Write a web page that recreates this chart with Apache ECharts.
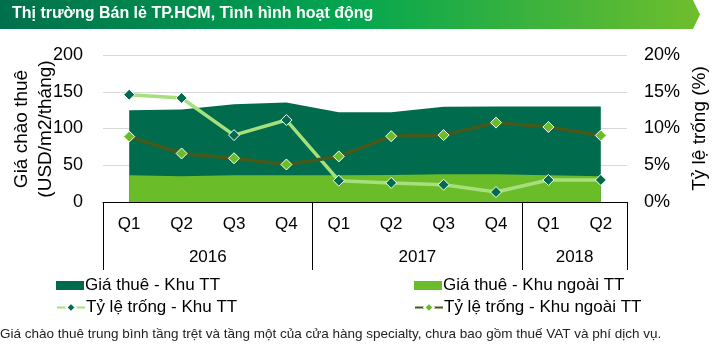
<!DOCTYPE html>
<html>
<head>
<meta charset="utf-8">
<script src="https://cdn.jsdelivr.net/npm/echarts@6/dist/echarts.min.js"></script>
<style>
html,body{margin:0;padding:0;background:#fff;}
#c{width:721px;height:362px;}
</style>
</head>
<body>
<div id="c"></div>
<script>
var quarters = ['Q1','Q2','Q3','Q4','Q1','Q2','Q3','Q4','Q1','Q2'];
var years = ['2016','2017','2018'];
var yearSpans = [4, 4, 2];
var rentCBD = [125, 126, 133, 135.5, 122, 122, 129.5, 130, 130, 130];
var rentNonCBD = [36.5, 35, 36.5, 36.5, 36.5, 36.8, 37.6, 37.6, 36.5, 35.2];
var vacCBD = [14.6, 14.15, 9.1, 11.15, 2.9, 2.6, 2.35, 1.35, 3.0, 3.0];
var vacNonCBD = [8.9, 6.6, 5.95, 5.1, 6.2, 8.95, 9.1, 10.8, 10.2, 9.05];
var leftTicks = [0, 50, 100, 150, 200];
var rightTicks = [0, 5, 10, 15, 20];

var names = ['Giá thuê - Khu TT', 'Giá thuê - Khu ngoài TT', 'Tỷ lệ trống - Khu TT', 'Tỷ lệ trống - Khu ngoài TT'];
var cDark = '#006B4D', cLight = '#6ABD28', cLineLight = '#A6E07C', cLineDark = '#46591A';
var font = 'Liberation Sans, Arial, sans-serif';

var bounds = [0], centers = [], acc = 0;
yearSpans.forEach(function (s) { centers.push(acc + s / 2); acc += s; bounds.push(acc); });

var chart = echarts.init(document.getElementById('c'));
function legendAt(name, left, top, icon) {
  var o = {
    data: [name], left: left, top: top, itemGap: 0, padding: 0,
    itemWidth: 28, itemHeight: icon ? 9 : 12,
    textStyle: { fontSize: 17, color: '#000', fontFamily: font, padding: [0, 0, 0, -4] },
    selectedMode: false
  };
  if (icon) o.icon = icon;
  return o;
}
chart.setOption({
  animation: false,
  textStyle: { fontFamily: font },
  grid: { left: 103, right: 94, top: 55, bottom: 160, containLabel: false, outerBoundsMode: 'none' },
  graphic: [
    {
      type: 'polygon', silent: true,
      shape: { points: [[0, 0], [693, 0], [700, 14.5], [693, 29], [0, 29]] },
      style: {
        fill: new echarts.graphic.LinearGradient(0, 0, 1, 0, [
          { offset: 0, color: '#00704C' },
          { offset: 0.5, color: '#03A650' },
          { offset: 1, color: '#6FBE2C' }
        ])
      }
    },
    {
      type: 'text', left: 12, top: 6, silent: true,
      style: { text: 'Thị trường Bán lẻ TP.HCM, Tình hình hoạt động', fill: '#fff', font: 'bold 16px ' + font }
    },
    {
      type: 'text', x: 34, y: 129, rotation: Math.PI / 2, silent: true,
      style: { text: 'Giá chào thuê\n(USD/m2/tháng)', fill: '#000', font: '19px ' + font, lineHeight: 24, align: 'center', verticalAlign: 'middle' }
    },
    {
      type: 'text', left: 0, top: 327, silent: true,
      style: { text: 'Giá chào thuê trung bình tầng trệt và tầng một của cửa hàng specialty, chưa bao gồm thuế VAT và phí dịch vụ.', fill: '#222', font: '13.5px ' + font }
    }
  ],
  legend: [
    legendAt(names[0], 56, 277, 'rect'),
    legendAt(names[1], 414, 277, 'rect'),
    legendAt(names[2], 56, 299),
    legendAt(names[3], 414, 299)
  ],
  xAxis: [
    {
      type: 'category', data: quarters, boundaryGap: true,
      axisLine: { show: true, lineStyle: { color: '#000', width: 1 } },
      axisTick: { show: false },
      axisLabel: { fontSize: 17, color: '#000', margin: 14 }
    },
    {
      type: 'value', min: 0, max: acc, position: 'bottom',
      axisLine: { show: false },
      splitLine: { show: false },
      axisTick: { show: true, customValues: bounds, length: 68, lineStyle: { color: '#000', width: 1 } },
      axisLabel: {
        show: true, customValues: centers, fontSize: 17, color: '#000', margin: 47,
        formatter: function (v) { var i = centers.indexOf(v); return i >= 0 ? years[i] : ''; }
      }
    }
  ],
  yAxis: [
    {
      type: 'value', min: leftTicks[0], max: leftTicks[leftTicks.length - 1], interval: leftTicks[1] - leftTicks[0],
      axisLine: { show: false }, axisTick: { show: false },
      axisLabel: { fontSize: 18, color: '#000', margin: 20 },
      splitLine: { show: true, lineStyle: { color: '#D9D9D9', width: 1 } }
    },
    {
      type: 'value', min: rightTicks[0], max: rightTicks[rightTicks.length - 1], interval: rightTicks[1] - rightTicks[0],
      name: 'Tỷ lệ trống (%)', nameLocation: 'middle', nameGap: 63, nameRotate: 90,
      nameMoveOverlap: false,
      nameTextStyle: { fontSize: 19, color: '#000' },
      axisLine: { show: false }, axisTick: { show: false },
      axisLabel: { fontSize: 18, color: '#000', margin: 17, formatter: '{value}%' },
      splitLine: { show: false }
    }
  ],
  series: [
    {
      name: names[0], type: 'line', data: rentCBD, yAxisIndex: 0, xAxisIndex: 0,
      symbol: 'none', lineStyle: { width: 0, color: cDark }, itemStyle: { color: cDark },
      areaStyle: { color: cDark, opacity: 1 }, z: 1
    },
    {
      name: names[1], type: 'line', data: rentNonCBD, yAxisIndex: 0, xAxisIndex: 0,
      symbol: 'none', lineStyle: { width: 0, color: cLight }, itemStyle: { color: cLight },
      areaStyle: { color: cLight, opacity: 1 }, z: 2
    },
    {
      name: names[2], type: 'line', data: vacCBD, yAxisIndex: 1, xAxisIndex: 0,
      symbol: 'diamond', symbolSize: 11,
      lineStyle: { width: 3.5, color: cLineLight },
      itemStyle: { color: cDark, borderColor: '#fff', borderWidth: 1 }, z: 3
    },
    {
      name: names[3], type: 'line', data: vacNonCBD, yAxisIndex: 1, xAxisIndex: 0,
      symbol: 'diamond', symbolSize: 11,
      lineStyle: { width: 3.5, color: cLineDark },
      itemStyle: { color: cLight, borderColor: '#fff', borderWidth: 1 }, z: 4
    }
  ]
});
</script>
</body>
</html>
